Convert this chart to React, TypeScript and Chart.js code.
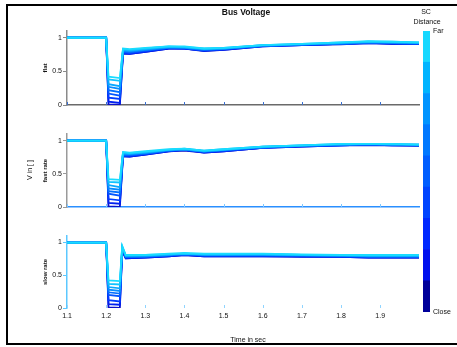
import React, { useEffect, useRef } from "react";
import { Chart, registerables } from "chart.js";
Chart.register(...registerables);

// ---------- data ----------
const TIME_FAULT = [1.1, 1.2, 1.206, 1.235, 1.243, 1.26, 1.3, 1.36, 1.4, 1.45, 1.5, 1.6, 1.7, 1.8, 1.87, 1.93, 1.999];
const TIME_SLOW = [1.1, 1.2, 1.206, 1.235, 1.241, 1.25, 1.3, 1.36, 1.4, 1.45, 1.5, 1.6, 1.7, 1.8, 1.87, 1.93, 1.999];

// far (cyan) -> close (dark blue)
const FLAT_SERIES = [
  [1, 1, 0.42, 0.40, 0.84, 0.83, 0.85, 0.87, 0.87, 0.84, 0.85, 0.89, 0.91, 0.93, 0.95, 0.94, 0.93],
  [1, 1, 0.38, 0.36, 0.83, 0.82, 0.84, 0.87, 0.86, 0.84, 0.85, 0.89, 0.91, 0.93, 0.94, 0.94, 0.93],
  [1, 1, 0.31, 0.28, 0.82, 0.81, 0.83, 0.86, 0.86, 0.83, 0.84, 0.89, 0.90, 0.92, 0.94, 0.93, 0.92],
  [1, 1, 0.27, 0.24, 0.81, 0.80, 0.82, 0.86, 0.85, 0.83, 0.84, 0.88, 0.90, 0.92, 0.93, 0.93, 0.92],
  [1, 1, 0.22, 0.19, 0.80, 0.79, 0.82, 0.85, 0.85, 0.82, 0.84, 0.88, 0.90, 0.91, 0.93, 0.92, 0.92],
  [1, 1, 0.17, 0.14, 0.79, 0.78, 0.81, 0.85, 0.85, 0.82, 0.83, 0.88, 0.90, 0.91, 0.93, 0.92, 0.91],
  [1, 1, 0.11, 0.09, 0.78, 0.77, 0.80, 0.85, 0.84, 0.81, 0.83, 0.88, 0.89, 0.91, 0.92, 0.92, 0.91],
  [1, 1, 0.05, 0.03, 0.77, 0.76, 0.79, 0.84, 0.84, 0.81, 0.82, 0.87, 0.89, 0.91, 0.92, 0.91, 0.91],
  [1, 1, 0.01, 0.00, 0.76, 0.76, 0.79, 0.84, 0.84, 0.80, 0.82, 0.87, 0.89, 0.90, 0.92, 0.91, 0.91],
];

const FAST_SERIES = [
  [1, 1, 0.42, 0.41, 0.83, 0.82, 0.84, 0.87, 0.88, 0.85, 0.87, 0.91, 0.93, 0.95, 0.95, 0.95, 0.94],
  [1, 1, 0.38, 0.37, 0.82, 0.81, 0.83, 0.86, 0.88, 0.85, 0.87, 0.91, 0.93, 0.95, 0.95, 0.95, 0.94],
  [1, 1, 0.33, 0.30, 0.81, 0.80, 0.82, 0.86, 0.87, 0.84, 0.86, 0.91, 0.93, 0.94, 0.95, 0.94, 0.94],
  [1, 1, 0.28, 0.26, 0.80, 0.80, 0.82, 0.86, 0.87, 0.84, 0.86, 0.90, 0.92, 0.94, 0.95, 0.94, 0.94],
  [1, 1, 0.24, 0.22, 0.79, 0.79, 0.81, 0.85, 0.87, 0.84, 0.86, 0.90, 0.92, 0.94, 0.94, 0.94, 0.93],
  [1, 1, 0.20, 0.17, 0.78, 0.78, 0.80, 0.85, 0.86, 0.83, 0.85, 0.90, 0.92, 0.93, 0.94, 0.94, 0.93],
  [1, 1, 0.12, 0.10, 0.77, 0.77, 0.80, 0.85, 0.86, 0.83, 0.85, 0.89, 0.92, 0.93, 0.94, 0.93, 0.93],
  [1, 1, 0.06, 0.05, 0.77, 0.76, 0.79, 0.84, 0.86, 0.82, 0.84, 0.89, 0.91, 0.93, 0.94, 0.93, 0.93],
  [1, 1, 0.01, 0.00, 0.76, 0.76, 0.79, 0.84, 0.85, 0.82, 0.84, 0.89, 0.91, 0.93, 0.93, 0.93, 0.92],
];

const SLOW_SERIES = [
  [1, 1, 0.42, 0.41, 0.95, 0.81, 0.81, 0.83, 0.84, 0.83, 0.83, 0.83, 0.82, 0.81, 0.81, 0.81, 0.81],
  [1, 1, 0.37, 0.36, 0.94, 0.80, 0.81, 0.82, 0.83, 0.82, 0.82, 0.82, 0.81, 0.81, 0.80, 0.80, 0.80],
  [1, 1, 0.32, 0.30, 0.93, 0.80, 0.80, 0.82, 0.83, 0.82, 0.82, 0.82, 0.81, 0.80, 0.80, 0.80, 0.80],
  [1, 1, 0.28, 0.26, 0.92, 0.79, 0.79, 0.81, 0.83, 0.81, 0.81, 0.82, 0.81, 0.80, 0.79, 0.79, 0.79],
  [1, 1, 0.24, 0.22, 0.91, 0.78, 0.79, 0.81, 0.82, 0.81, 0.81, 0.81, 0.80, 0.80, 0.79, 0.79, 0.79],
  [1, 1, 0.20, 0.18, 0.90, 0.78, 0.78, 0.80, 0.82, 0.80, 0.80, 0.80, 0.80, 0.79, 0.78, 0.78, 0.78],
  [1, 1, 0.12, 0.10, 0.89, 0.77, 0.78, 0.80, 0.82, 0.80, 0.80, 0.80, 0.79, 0.79, 0.78, 0.78, 0.78],
  [1, 1, 0.06, 0.05, 0.88, 0.76, 0.77, 0.79, 0.81, 0.79, 0.79, 0.79, 0.79, 0.78, 0.77, 0.77, 0.77],
  [1, 1, 0.01, 0.00, 0.87, 0.76, 0.77, 0.79, 0.81, 0.79, 0.79, 0.79, 0.78, 0.78, 0.77, 0.77, 0.77],
];

const SERIES_COLORS = ["#19dcff", "#10c4ff", "#08a8ff", "#068cff", "#0470ff", "#0356ff", "#023cff", "#0120f0", "#0a10c8"];

const X_TICKS = [1.1, 1.2, 1.3, 1.4, 1.5, 1.6, 1.7, 1.8, 1.9];
const Y_TICKS = [0, 0.5, 1];
const X_MIN = 1.1;
const X_MAX = 1.999;
const Y_MIN = 0;
const Y_MAX = 1.1;

// colorbar: close (bottom) -> far (top)
const COLORBAR_COLORS = ["#00009a", "#0010ee", "#0028ff", "#0044ff", "#005eff", "#0078ff", "#0094ff", "#00b4ff", "#16d8ff"];
const COLORBAR_BLOCKS = [1, 1, 1, 1, 1, 1, 1, 1, 1];
const COLORBAR_TICKS = [0, 9];
const COLORBAR_LABELS = ["Close", "Far"];

const FAMILY = '"Liberation Sans", Arial, sans-serif';

type TextItem = { text: string; x: number; y: number; font: string; color?: string; rotate?: number };

function overlayPlugin(texts: TextItem[], canvasTop: number, canvasLeft: number, tickColor: string | null) {
  return {
    id: "overlay",
    afterDraw(chart: any) {
      const ctx = chart.ctx;
      const area = chart.chartArea;
      ctx.save();
      if (tickColor && chart.scales.x) {
        const xs = chart.scales.x;
        ctx.strokeStyle = tickColor;
        ctx.lineWidth = 1;
        X_TICKS.forEach((v) => {
          const px = Math.round(xs.getPixelForValue(v)) + 0.5;
          ctx.beginPath();
          ctx.moveTo(px, area.bottom);
          ctx.lineTo(px, area.bottom - 3);
          ctx.stroke();
        });
      }
      texts.forEach((t) => {
        ctx.save();
        ctx.font = t.font;
        ctx.fillStyle = t.color || "#111";
        ctx.textAlign = "center";
        ctx.textBaseline = "middle";
        ctx.translate(t.x - canvasLeft, t.y - canvasTop);
        if (t.rotate) ctx.rotate(t.rotate);
        ctx.fillText(t.text, 0, 0);
        ctx.restore();
      });
      ctx.restore();
    },
  };
}

type PanelProps = {
  top: number;
  height: number;
  chartTop: number;
  chartBottom: number;
  time: number[];
  series: number[][];
  yTitle: string;
  showXLabels: boolean;
  yBorder: string;
  xBorder: string | null;
  tickColor: string;
  texts: TextItem[];
};

function Panel(p: PanelProps) {
  const ref = useRef<HTMLCanvasElement | null>(null);
  useEffect(() => {
    if (!ref.current) return;
    const chart = new Chart(ref.current, {
      type: "line",
      data: {
        datasets: p.series.map((vals, i) => ({
          data: p.time.map((t, j) => ({ x: t, y: vals[j] })),
          borderColor: SERIES_COLORS[i],
          backgroundColor: SERIES_COLORS[i],
          borderWidth: 1.8,
          pointRadius: 0,
          tension: 0,
          fill: false,
        })),
      },
      options: {
        animation: false,
        responsive: false,
        devicePixelRatio: 1,
        layout: { padding: { left: 40, right: 38, top: p.chartTop - p.top, bottom: 0 } },
        plugins: { legend: { display: false }, tooltip: { enabled: false }, title: { display: false } },
        scales: {
          x: {
            type: "linear",
            min: X_MIN,
            max: X_MAX,
            afterFit: (s: any) => {
              s.height = p.top + p.height - p.chartBottom;
            },
            afterBuildTicks: (s: any) => {
              s.ticks = X_TICKS.map((v) => ({ value: v }));
            },
            grid: { display: false, drawTicks: false },
            border: { display: !!p.xBorder, color: p.xBorder || "#000", width: 1.5 },
            ticks: {
              display: p.showXLabels,
              padding: 4,
              maxRotation: 0,
              autoSkip: false,
              color: "#111",
              font: { size: 7, family: FAMILY },
              callback: (v: any) => Number(v).toFixed(1),
            },
          },
          y: {
            type: "linear",
            min: Y_MIN,
            max: Y_MAX,
            afterFit: (s: any) => {
              s.width = 27;
            },
            afterBuildTicks: (s: any) => {
              s.ticks = Y_TICKS.map((v) => ({ value: v }));
            },
            grid: { drawOnChartArea: false, drawTicks: true, tickLength: 4, color: p.yBorder },
            border: { color: p.yBorder, width: 1.5 },
            ticks: {
              padding: 1,
              color: "#111",
              font: { size: 7, family: FAMILY },
              callback: (v: any) => String(v),
            },
            title: {
              display: true,
              text: p.yTitle,
              color: "#111",
              font: { size: 6, weight: "bold", family: FAMILY },
              padding: { top: 2, bottom: 0 },
            },
          },
        },
      } as any,
      plugins: [overlayPlugin(p.texts, p.top, 0, p.tickColor)],
    });
    return () => chart.destroy();
  }, []);
  return (
    <canvas
      ref={ref}
      width={457}
      height={p.height}
      style={{ position: "absolute", left: 0, top: p.top, width: 457, height: p.height }}
    />
  );
}

function ColorBar() {
  const ref = useRef<HTMLCanvasElement | null>(null);
  const left = 400;
  const width = 57;
  const height = 347;
  useEffect(() => {
    if (!ref.current) return;
    const chart = new Chart(ref.current, {
      type: "bar",
      data: {
        labels: [""],
        datasets: COLORBAR_BLOCKS.map((v, i) => ({
          data: [v],
          backgroundColor: COLORBAR_COLORS[i],
          borderWidth: 0,
          barPercentage: 1,
          categoryPercentage: 1,
          stack: "cb",
        })),
      },
      options: {
        animation: false,
        responsive: false,
        devicePixelRatio: 1,
        layout: { padding: { left: 23, right: 0, top: 31, bottom: 35 } },
        plugins: { legend: { display: false }, tooltip: { enabled: false } },
        scales: {
          x: { stacked: true, display: false },
          y: {
            stacked: true,
            position: "right",
            min: 0,
            max: 9,
            afterFit: (s: any) => {
              s.width = 27;
            },
            afterBuildTicks: (s: any) => {
              s.ticks = COLORBAR_TICKS.map((v) => ({ value: v }));
            },
            grid: { display: false, drawTicks: false },
            border: { display: false },
            ticks: {
              padding: 3,
              color: "#111",
              font: { size: 7, family: FAMILY },
              callback: (v: any) => COLORBAR_LABELS[COLORBAR_TICKS.indexOf(Number(v))],
            },
          },
        },
      } as any,
      plugins: [
        overlayPlugin(
          [
            { text: "SC", x: 426, y: 12, font: `7px ${FAMILY}` },
            { text: "Distance", x: 427, y: 22, font: `7px ${FAMILY}` },
          ],
          0,
          left,
          null
        ),
      ],
    });
    return () => chart.destroy();
  }, []);
  return (
    <canvas
      ref={ref}
      width={width}
      height={height}
      style={{ position: "absolute", left, top: 0, width, height }}
    />
  );
}

export default function App() {
  return (
    <div
      style={{
        position: "fixed",
        left: 0,
        top: 0,
        width: 457,
        height: 347,
        overflow: "hidden",
        background: "#fff",
      }}
    >
      <div
        style={{
          position: "absolute",
          left: 6,
          top: 4,
          width: 520,
          height: 341,
          boxSizing: "border-box",
          borderLeft: "2px solid #000",
          borderTop: "2px solid #000",
          borderBottom: "2px solid #000",
        }}
      />
      <Panel
        top={0}
        height={112}
        chartTop={31}
        chartBottom={105}
        time={TIME_FAULT}
        series={FLAT_SERIES}
        yTitle="flat"
        showXLabels={false}
        yBorder="#8a8a8a"
        xBorder="#6a6a6a"
        tickColor="#3a6fd0"
        texts={[{ text: "Bus Voltage", x: 246, y: 13, font: `bold 8.5px ${FAMILY}` }]}
      />
      <Panel
        top={112}
        height={103}
        chartTop={134}
        chartBottom={207}
        time={TIME_FAULT}
        series={FAST_SERIES}
        yTitle="fast rate"
        showXLabels={false}
        yBorder="#9a9a9a"
        xBorder="#2b8fff"
        tickColor="#7fc8ff"
        texts={[{ text: "V in [ ]", x: 30, y: 170, font: `7px ${FAMILY}`, rotate: -Math.PI / 2 }]}
      />
      <Panel
        top={215}
        height={132}
        chartTop={236}
        chartBottom={308}
        time={TIME_SLOW}
        series={SLOW_SERIES}
        yTitle="slow rate"
        showXLabels={true}
        yBorder="#5cc8ff"
        xBorder={null}
        tickColor="#8fd4ff"
        texts={[{ text: "Time in sec", x: 248, y: 340, font: `7px ${FAMILY}` }]}
      />
      <ColorBar />
    </div>
  );
}
